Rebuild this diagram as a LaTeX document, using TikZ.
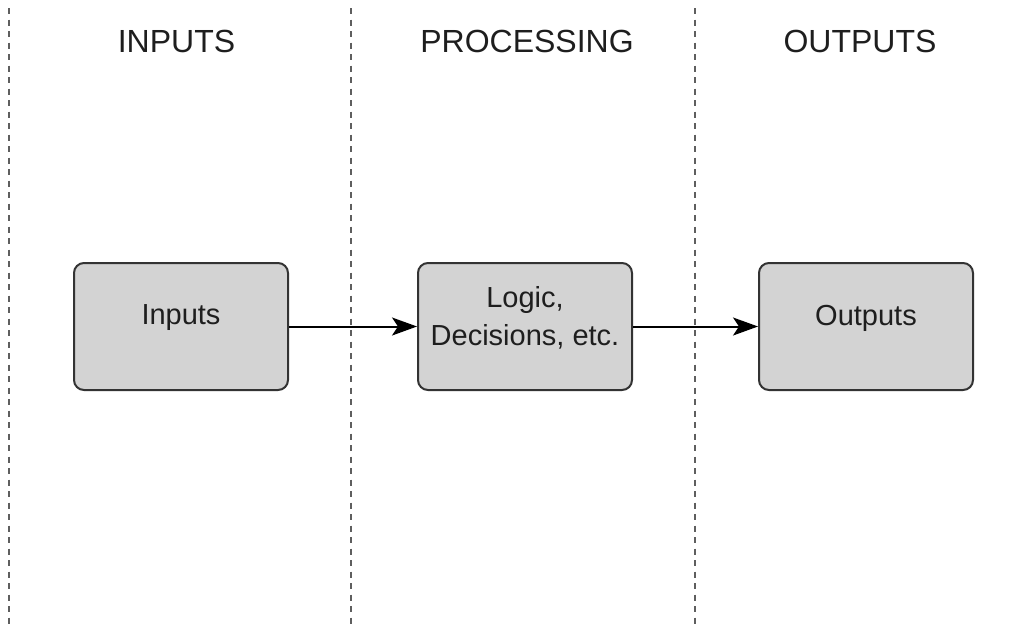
\documentclass[tikz,border=0pt]{standalone}
\usepackage{fontspec}
\setmainfont{Liberation Sans}
\usetikzlibrary{arrows.meta}
\definecolor{boxfill}{HTML}{D3D3D3}
\definecolor{boxline}{HTML}{333333}
\definecolor{sepline}{HTML}{5E5E5E}
\definecolor{txt}{HTML}{1E1E1E}
\begin{document}
\begin{tikzpicture}[x=1pt,y=-1pt,
  stagebox/.style={draw=boxline, line width=2pt, fill=boxfill, rounded corners=10pt,
    minimum width=214pt, minimum height=127pt, inner sep=0pt},
  boxtext/.style={inner sep=0pt, align=center, text=txt, font=\fontsize{29}{38}\selectfont},
  heading/.style={text=txt, font=\fontsize{32}{38}\selectfont, inner sep=0pt, anchor=base},
  sep/.style={draw=sepline, line width=1.5pt, dash pattern=on 6pt off 5.5pt},
  flow/.style={draw=black, line width=2pt, -{Stealth[length=25pt, width=18pt, inset=6pt]}}]
\useasboundingbox (0,0) rectangle (1027,624);
% separators
\coordinate (s1t) at (9,8);    \coordinate (s1b) at (9,624);
\coordinate (s2t) at (351,8);  \coordinate (s2b) at (351,624);
\coordinate (s3t) at (695,8);  \coordinate (s3b) at (695,624);
\draw[sep] (s1t) -- (s1b);
\draw[sep] (s2t) -- (s2b);
\draw[sep] (s3t) -- (s3b);
% headings
\node[heading] (hin) at (176.5,52) {INPUTS};
\node[heading] (hpr) at (527,52) {PROCESSING};
\node[heading] (hout) at (860,52) {OUTPUTS};
% boxes
\node[stagebox] (in) at (181,326.5) {};
\node[stagebox] (pr) at (525,326.5) {};
\node[stagebox] (out) at (866,326.5) {};
\node[boxtext, yshift=8.5pt] (inT) at (in.center) {Inputs};
\node[boxtext, yshift=8.5pt] (prT) at (pr.center) {Logic,\\Decisions, etc.};
\node[boxtext, yshift=8.5pt] (outT) at (out.center) {Outputs};
% connectors
\draw[flow] (in.east) -- (pr.west);
\draw[flow] (pr.east) -- (out.west);
\end{tikzpicture}
\end{document}
